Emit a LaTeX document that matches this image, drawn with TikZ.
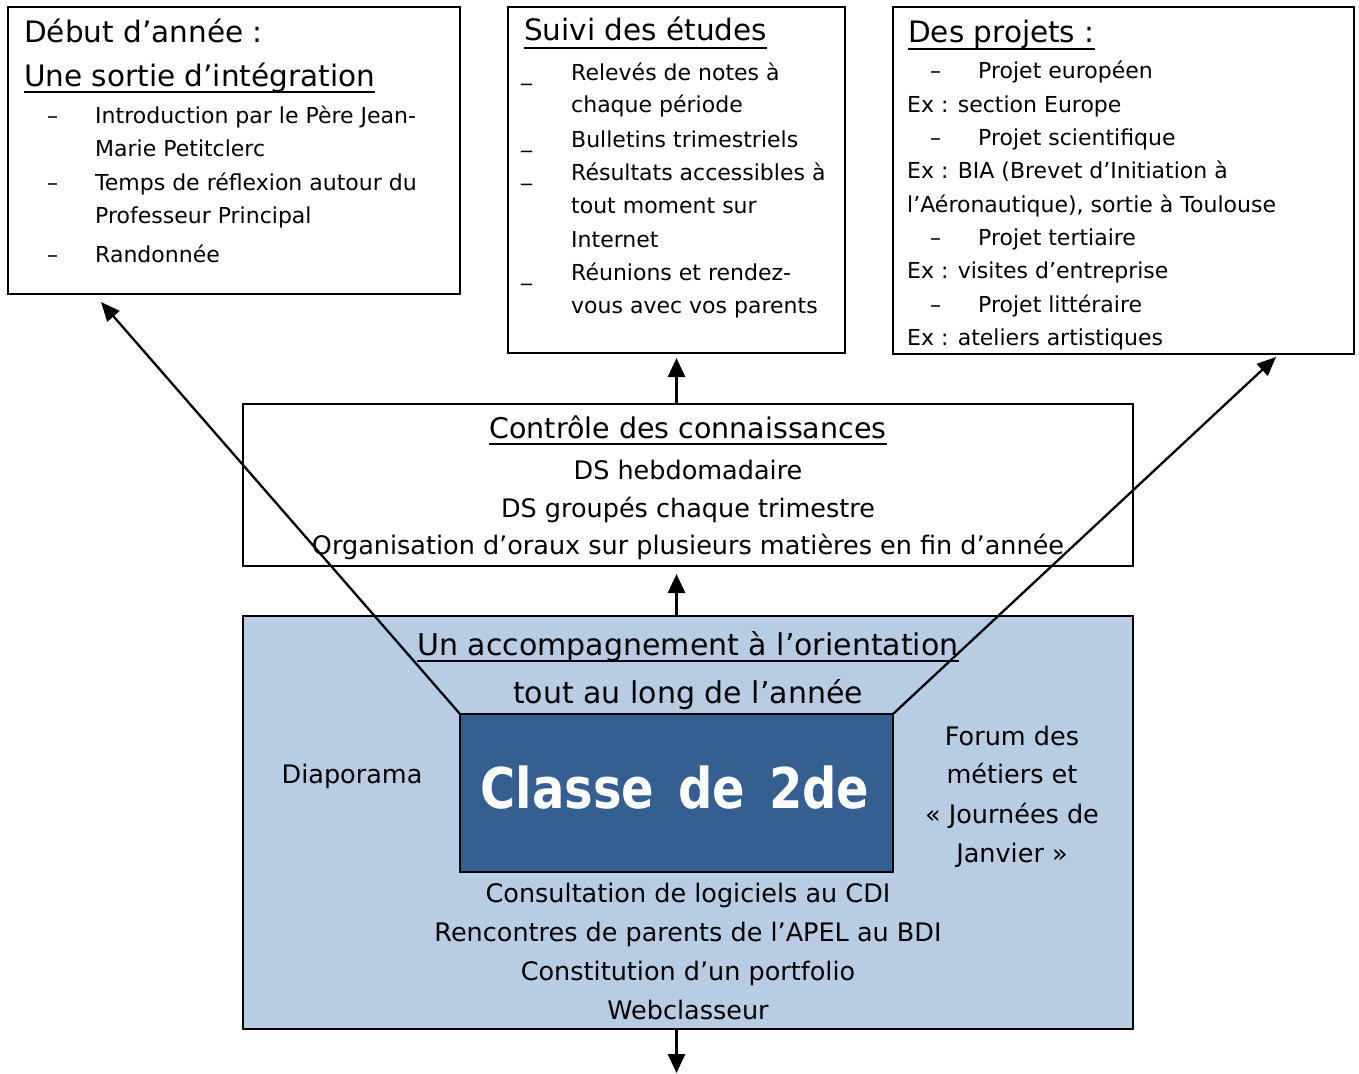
\documentclass[tikz,border=0pt]{standalone}
\usepackage{fontspec}
\setmainfont{DejaVu Sans}
\usetikzlibrary{arrows.meta}
\definecolor{paleblue}{RGB}{184,204,228}
\definecolor{deepblue}{RGB}{54,95,145}
\begin{document}
\begin{tikzpicture}[x=1pt,y=-1pt,
  frame/.style={draw, line width=2.8pt, inner sep=0pt, outer sep=0pt},
  tl/.style={anchor=base west, inner sep=0pt, font=\fontsize{22}{26}\selectfont},
  hd/.style={anchor=base west, inner sep=0pt, font=\fontsize{29.5}{34}\selectfont},
  dl/.style={anchor=base, inner sep=0pt, font=\fontsize{25.5}{30}\selectfont},
  dh/.style={anchor=base, inner sep=0pt, font=\fontsize{28.5}{34}\selectfont},
  bh/.style={anchor=base, inner sep=0pt, font=\fontsize{30}{36}\selectfont},
  uline/.style={line width=2.4pt},
  arr/.style={line width=2.8pt, -{Triangle[length=19pt,width=17pt]}},
  diag/.style={line width=2.3pt, -{Triangle[length=19pt,width=16pt]}}
]
\useasboundingbox (0,0) rectangle (1359,1073);

% boxes
\node[frame, minimum width=452pt, minimum height=287pt] (A) at (234,150.5) {};
\node[frame, minimum width=337pt, minimum height=346pt] (B) at (676.5,180) {};
\node[frame, minimum width=461pt, minimum height=347pt] (C) at (1123.5,180.5) {};
\node[frame, minimum width=890pt, minimum height=162pt] (D) at (688,485) {};
\node[frame, fill=paleblue, minimum width=890pt, minimum height=413pt] (E) at (688,822.5) {};
\node[frame, fill=deepblue, minimum width=433pt, minimum height=158pt] (F) at (676.5,793) {};

% box A
\node[hd] (a1) at (24,43) {Début d’année :};
\node[hd] (a2) at (24,86) {Une sortie d’intégration};
\draw[uline] ([yshift=-6pt]a2.base west) -- ([yshift=-6pt]a2.base east);
\node[tl] (ad1) at (47,123) {–};
\node[tl] (a3) at (95,123) {Introduction par le Père Jean-};
\node[tl] (a4) at (95,156) {Marie Petitclerc};
\node[tl] (ad2) at (47,190) {–};
\node[tl] (a5) at (95,190) {Temps de réflexion autour du};
\node[tl] (a6) at (95,223) {Professeur Principal};
\node[tl] (ad3) at (47,262) {–};
\node[tl] (a7) at (95,262) {Randonnée};

% box B
\node[hd] (b1) at (524,41) {Suivi des études};
\draw[uline] ([yshift=-7pt]b1.base west) -- ([yshift=-7pt]b1.base east);
\node[tl] (bd1) at (521,80) {\_};
\node[tl] (b2) at (571,80) {Relevés de notes à};
\node[tl] (b3) at (571,112) {chaque période};
\node[tl] (bd2) at (521,147) {\_};
\node[tl] (b4) at (571,147) {Bulletins trimestriels};
\node[tl] (bd3) at (521,180) {\_};
\node[tl] (b5) at (571,180) {Résultats accessibles à};
\node[tl] (b6) at (571,213) {tout moment sur};
\node[tl] (b7) at (571,247) {Internet};
\node[tl] (bd4) at (521,280) {\_};
\node[tl] (b8) at (571,280) {Réunions et rendez-};
\node[tl] (b9) at (571,313) {vous avec vos parents};

% box C
\node[hd] (c1) at (908,43) {Des projets :};
\draw[uline] ([yshift=-6pt]c1.base west) -- ([yshift=-6pt]c1.base east);
\node[tl] (cd1) at (930,78) {–};
\node[tl] (c2) at (978,78) {Projet européen};
\node[tl] (c3) at (907,112) {Ex : section Europe};
\node[tl] (cd2) at (930,145) {–};
\node[tl] (c4) at (978,145) {Projet scientifique};
\node[tl] (c5) at (907,178) {Ex : BIA (Brevet d’Initiation à};
\node[tl] (c6) at (907,212) {l’Aéronautique), sortie à Toulouse};
\node[tl] (cd3) at (930,245) {–};
\node[tl] (c7) at (978,245) {Projet tertiaire};
\node[tl] (c8) at (907,278) {Ex : visites d’entreprise};
\node[tl] (cd4) at (930,312) {–};
\node[tl] (c9) at (978,312) {Projet littéraire};
\node[tl] (c10) at (907,345) {Ex : ateliers artistiques};

% box D
\node[dh] (d1) at (688,438) {Contrôle des connaissances};
\draw[uline] ([yshift=-6pt]d1.base west) -- ([yshift=-6pt]d1.base east);
\node[dl] (d2) at (688,479) {DS hebdomadaire};
\node[dl] (d3) at (688,517) {DS groupés chaque trimestre};
\node[dl] (d4) at (688,554) {Organisation d’oraux sur plusieurs matières en fin d’année};

% box E
\node[bh] (e1) at (688,655) {Un accompagnement à l’orientation};
\draw[uline] ([yshift=-6pt]e1.base west) -- ([yshift=-6pt]e1.base east);
\node[bh] (e2) at (688,703) {tout au long de l’année};
\node[dl] (e3) at (352,783) {Diaporama};
\node[dl] (e4) at (1012,745) {Forum des};
\node[dl] (e5) at (1012,783) {métiers et};
\node[dl] (e6) at (1012,823) {« Journées de};
\node[dl] (e7) at (1012,862) {Janvier »};
\node[dl] (e8) at (688,902) {Consultation de logiciels au CDI};
\node[dl] (e9) at (688,941) {Rencontres de parents de l’APEL au BDI};
\node[dl] (e10) at (688,980) {Constitution d’un portfolio};
\node[dl] (e11) at (688,1019) {Webclasseur};

% centre
\node[anchor=base, inner sep=0pt, text=white, font=\fontsize{48}{56}\bfseries\selectfont] (f1) at (675,808) {\scalebox{1}[1.17]{Classe\hspace{0.5em}de\hspace{0.5em}2de}};

% connectors
\coordinate (tipA) at (101,302);
\coordinate (tipC) at (1276,357);
\coordinate (tipBot) at (676.5,1073);
\draw[arr] (B.south |- E.north) -- ([yshift=-8pt]B.south |- D.south);
\draw[arr] (B.south |- D.north) -- ([yshift=-5pt]B.south);
\draw[arr] (B.south |- E.south) -- (tipBot);
\draw[diag] (F.north west) -- (tipA);
\draw[diag] (F.north east) -- (tipC);
\end{tikzpicture}
\end{document}
